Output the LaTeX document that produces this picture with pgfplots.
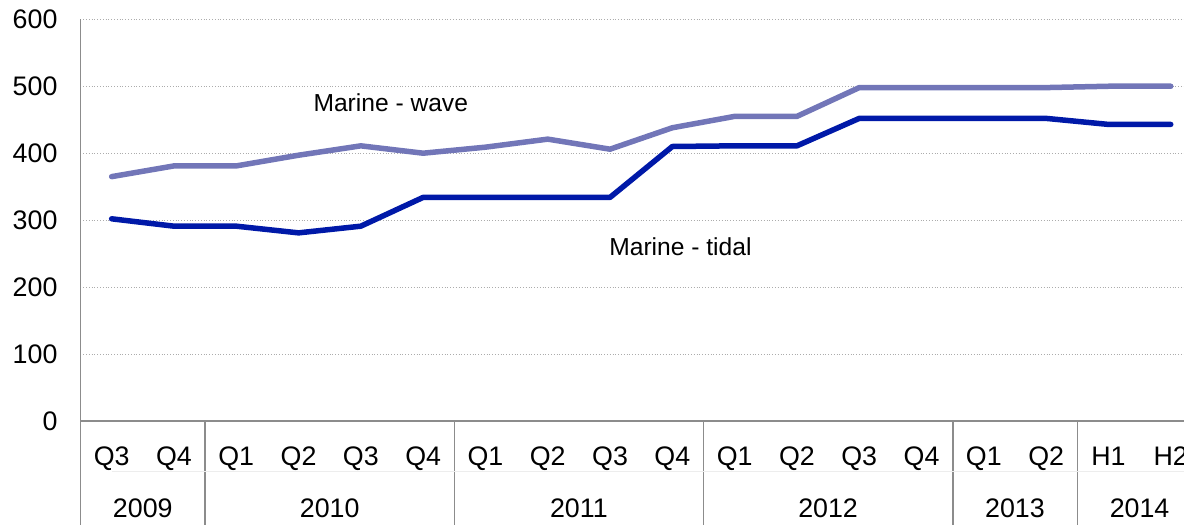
\documentclass[border=0pt]{standalone}
\usepackage{fontspec}
\setmainfont{Liberation Sans}
\usepackage{pgfplots}
\pgfplotsset{compat=1.18}

\definecolor{wave}{RGB}{114,118,184}
\definecolor{tidal}{RGB}{0,25,168}
\definecolor{axisgray}{RGB}{140,140,140}

\newcommand{\lblfont}{\fontsize{13.4}{15}\selectfont}

\begin{document}
\begin{tikzpicture}[font=\fontsize{12.3}{14}\selectfont]
\begin{axis}[
  at={(40.25pt,52pt)}, anchor=south west,
  scale only axis, width=560.7pt, height=200.85pt,
  xmin=-0.5, xmax=17.5, ymin=0, ymax=600,
  axis x line=bottom, axis y line=left,
  axis line style={-, draw=axisgray, line width=0.8pt},
  major tick length=0pt,
  ytick={0,100,...,600},
  ymajorgrids,
  grid style={densely dotted, gray!65, line width=0.5pt},
  /pgf/number format/assume math mode=true,
  tick label style={font=\lblfont},
  yticklabel style={anchor=east, xshift=-8pt},
  xtick={0,...,17},
  xticklabels={Q3,Q4,Q1,Q2,Q3,Q4,Q1,Q2,Q3,Q4,Q1,Q2,Q3,Q4,Q1,Q2,H1,H2},
  xticklabel style={anchor=base, yshift=-22.2pt},
  extra x ticks={-0.5,1.5,5.5,9.5,13.5,15.5},
  extra x tick labels={},
  extra x tick style={major tick length=52pt, tick align=outside,
    tick style={draw=axisgray, line width=0.8pt}, xmajorgrids=false},
  clip=false,
]
% faint rule between the quarter row and the year row
\draw[black!7, line width=0.5pt] (axis cs:-0.5,0) ++(0,-25.25pt) -- ++(560.7pt,0);
% quarterly capacity, wave
\addplot[wave, line width=2.75pt, line join=round, line cap=round] coordinates {
  (0,365) (1,381) (2,381) (3,397) (4,411) (5,400) (6,409) (7,421) (8,406)
  (9,438) (10,455) (11,455) (12,498) (13,498) (14,498) (15,498) (16,500) (17,500)
};
% quarterly capacity, tidal
\addplot[tidal, line width=2.75pt, line join=round, line cap=round] coordinates {
  (0,302) (1,291) (2,291) (3,281) (4,291) (5,334) (6,334) (7,334) (8,334)
  (9,410) (10,411) (11,411) (12,452) (13,452) (14,452) (15,452) (16,443) (17,443)
};
\node at (axis cs:4.48,475) {Marine - wave};
\node at (axis cs:9.13,261) {Marine - tidal};
% year row
\begin{scope}[every node/.style={anchor=base, yshift=-48pt, font=\lblfont}]
\node at (axis cs:0.5,0) {2009};
\node at (axis cs:3.5,0) {2010};
\node at (axis cs:7.5,0) {2011};
\node at (axis cs:11.5,0) {2012};
\node at (axis cs:14.5,0) {2013};
\node at (axis cs:16.5,0) {2014};
\end{scope}
\end{axis}
\pgfresetboundingbox
\path[use as bounding box] (0,0) rectangle (592pt,262.5pt);
\end{tikzpicture}
\end{document}
